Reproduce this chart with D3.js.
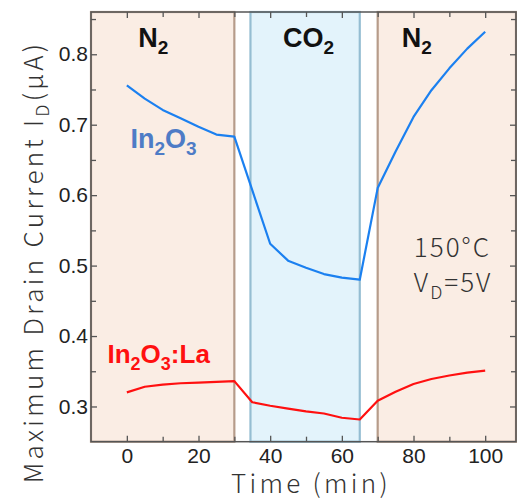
<!DOCTYPE html>
<html>
<head>
<meta charset="utf-8">
<script src="https://cdn.jsdelivr.net/npm/d3@7"></script>
<style>
  html, body { margin: 0; padding: 0; background: #fff; }
  svg { display: block; }
  .tick-label { font-family: "Liberation Sans", Arial, sans-serif; font-size: 21px; fill: #222; }
  .title { font-family: "Noto Sans CJK JP", "Noto Sans", sans-serif; font-weight: 300; }
  .gas { font-family: "Liberation Sans", Arial, sans-serif; font-weight: bold; }
</style>
</head>
<body>
<script>
// ---- data ----
const timeMin = [0, 5, 10, 15, 20, 25, 30, 35, 40, 45, 50, 55, 60, 65, 70, 75, 80, 85, 90, 95, 100];
const in2o3 = [0.756, 0.737, 0.721, 0.709, 0.697, 0.686, 0.683, 0.607, 0.531, 0.507, 0.497, 0.488, 0.483, 0.480, 0.610, 0.662, 0.711, 0.749, 0.780, 0.808, 0.832];
const in2o3La = [0.320, 0.328, 0.331, 0.333, 0.334, 0.335, 0.336, 0.306, 0.301, 0.297, 0.293, 0.290, 0.284, 0.2815, 0.308, 0.321, 0.332, 0.339, 0.344, 0.348, 0.351];
const xTicks = [0, 20, 40, 60, 80, 100];
const xMinorTicks = [10, 30, 50, 70, 90];
const yTicks = [0.3, 0.4, 0.5, 0.6, 0.7, 0.8];
const yMinorTicks = [0.35, 0.45, 0.55, 0.65, 0.75, 0.85];
// gas phases
const phases = [
  { start: -10, end: 30, gas: "N2" },
  { start: 34.5, end: 65, gas: "CO2" },
  { start: 70, end: 108.6, gas: "N2" }
];

const W = 517, H = 504;
const L = 91, R = 516, T = 12, B = 441.7;

const svg = d3.select("body").append("svg").attr("width", W).attr("height", H);

const x = d3.scaleLinear().domain([-10, 108.6]).range([L, R]);
const y = d3.scaleLinear().domain([0.25, 0.86]).range([B, T]);

// bands
const bandStyle = {
  N2: { fill: "#faede4", stroke: "#b69c8a" },
  CO2: { fill: "#e3f3fb", stroke: "#95bdd2" }
};
svg.append("g").selectAll("rect").data(phases).join("rect")
  .attr("x", d => x(d.start))
  .attr("y", T)
  .attr("width", d => x(d.end) - x(d.start))
  .attr("height", B - T)
  .attr("fill", d => bandStyle[d.gas].fill)
  .attr("stroke", d => bandStyle[d.gas].stroke)
  .attr("stroke-width", 2.2);

// axes with inward ticks
const axisColor = "#555";
function styleAxis(g) {
  g.select(".domain").remove();
  g.selectAll(".tick line").attr("stroke", axisColor).attr("stroke-width", 1.3);
}
function styleLabels(g) {
  g.selectAll(".tick text").attr("class", "tick-label").attr("font-size", null).attr("font-family", null).attr("fill", null);
}
// bottom
svg.append("g").attr("transform", `translate(0,${B})`)
  .call(d3.axisBottom(x).tickValues(xTicks).tickSizeInner(-6).tickSizeOuter(0).tickPadding(6).tickFormat(d3.format("d")))
  .call(styleAxis).call(styleLabels);
svg.append("g").attr("transform", `translate(0,${B})`)
  .call(d3.axisBottom(x).tickValues(xMinorTicks).tickSizeInner(-5).tickSizeOuter(0).tickFormat(""))
  .call(styleAxis);
// top
svg.append("g").attr("transform", `translate(0,${T})`)
  .call(d3.axisTop(x).tickValues(xTicks).tickSizeInner(-6).tickSizeOuter(0).tickFormat(""))
  .call(styleAxis);
svg.append("g").attr("transform", `translate(0,${T})`)
  .call(d3.axisTop(x).tickValues(xMinorTicks).tickSizeInner(-5).tickSizeOuter(0).tickFormat(""))
  .call(styleAxis);
// left
svg.append("g").attr("transform", `translate(${L},0)`)
  .call(d3.axisLeft(y).tickValues(yTicks).tickSizeInner(-6).tickSizeOuter(0).tickPadding(3).tickFormat(d3.format(".1f")))
  .call(styleAxis).call(styleLabels);
svg.append("g").attr("transform", `translate(${L},0)`)
  .call(d3.axisLeft(y).tickValues(yMinorTicks).tickSizeInner(-5).tickSizeOuter(0).tickFormat(""))
  .call(styleAxis);
// right
svg.append("g").attr("transform", `translate(${R},0)`)
  .call(d3.axisRight(y).tickValues(yTicks).tickSizeInner(-6).tickSizeOuter(0).tickFormat(""))
  .call(styleAxis);
svg.append("g").attr("transform", `translate(${R},0)`)
  .call(d3.axisRight(y).tickValues(yMinorTicks).tickSizeInner(-5).tickSizeOuter(0).tickFormat(""))
  .call(styleAxis);

// frame
svg.append("rect").attr("x", L).attr("y", T).attr("width", R - L).attr("height", B - T)
  .attr("fill", "none").attr("stroke", axisColor).attr("stroke-width", 1.5);

// lines
const line = d3.line().x((d, i) => x(timeMin[i])).y(d => y(d));
svg.append("path").datum(in2o3).attr("d", line)
  .attr("fill", "none").attr("stroke", "#1b80f0").attr("stroke-width", 2.2).attr("stroke-linejoin", "round");
svg.append("path").datum(in2o3La).attr("d", line)
  .attr("fill", "none").attr("stroke", "#ff1010").attr("stroke-width", 2.2).attr("stroke-linejoin", "round");

// helper for text with subscripts
function richText(px, py, parts, size, subSize, cls, fill, spacing) {
  const t = svg.append("text").attr("x", px).attr("y", py).attr("class", cls)
    .attr("font-size", size).style("fill", fill);
  if (spacing) t.attr("letter-spacing", spacing);
  const shift = size * 0.25;
  parts.forEach(([s, sub], i) => {
    const prevSub = i > 0 && parts[i - 1][1];
    const sp = t.append("tspan").text(s);
    if (sub) sp.attr("font-size", subSize).attr("dy", shift);
    else if (prevSub) sp.attr("dy", -shift);
  });
  return t;
}

// gas labels
richText(x(3.2), 47, [["N", false], ["2", true]], 27, 19, "gas", "#111");
richText(x(43.6), 47, [["CO", false], ["2", true]], 27, 19, "gas", "#111");
richText(x(76.7), 47, [["N", false], ["2", true]], 27, 19, "gas", "#111");

// series labels
richText(x(1), 148, [["In", false], ["2", true], ["O", false], ["3", true]], 27, 19, "gas", "#4e7cc6");
richText(x(-5.4), 363, [["In", false], ["2", true], ["O", false], ["3", true], [":La", false]], 26, 18, "gas", "#ff1010");

// conditions
richText(x(80.1), 257, [["150°C", false]], 26, 18, "title", "#333", 2);
richText(x(80.1), 292, [["V", false], ["D", true], ["=5V", false]], 26, 18, "title", "#333", 2);

// axis titles
svg.append("text").attr("x", 311).attr("y", 493).attr("text-anchor", "middle")
  .attr("class", "title").attr("font-size", 26).attr("letter-spacing", 3.3).style("fill", "#333").text("Time (min)");
const yt = svg.append("text").attr("transform", "translate(43,262) rotate(-90)").attr("text-anchor", "middle")
  .attr("class", "title").attr("font-size", 26).attr("letter-spacing", 3.3).style("fill", "#333");
yt.append("tspan").text("Maximum Drain Current I");
yt.append("tspan").attr("font-size", 18).attr("dy", 6).text("D");
yt.append("tspan").attr("dy", -6).text("(μA)");
</script>
</body>
</html>
